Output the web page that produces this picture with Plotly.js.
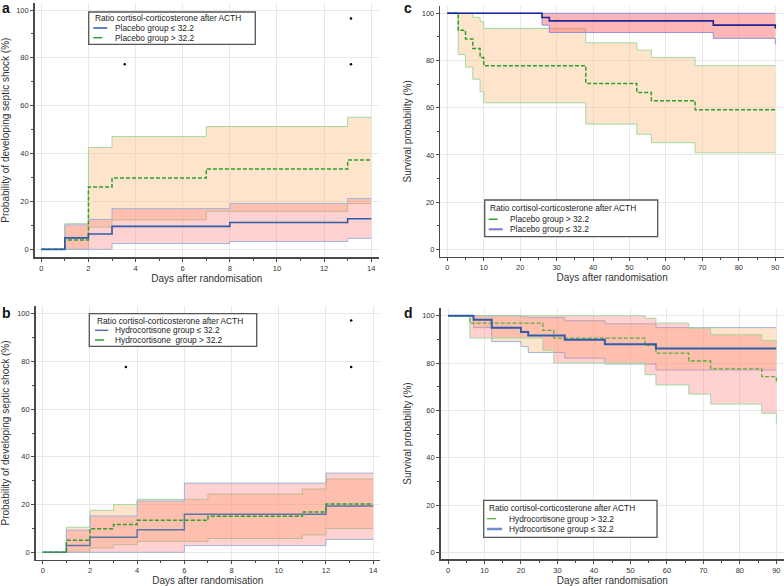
<!DOCTYPE html>
<html><head><meta charset="utf-8">
<script src="https://cdn.plot.ly/plotly-3.0.1.min.js"></script>
<style>html,body{margin:0;padding:0;background:#fff}</style>
</head><body><div id="chart" style="width:784px;height:586px"></div>
<script>
// ---------- DATA ----------
// Panel a: placebo group, probability of developing septic shock (%)
const aLowT   = [0, 1, 2, 3, 8, 13, 14];
const aLowEst = [0, 4.8, 6.4, 9.6, 11.2, 12.8, 12.8];
const aLowLo  = [0, 0, 0, 2.4, 3.3, 4.6, 4.6];
const aLowHi  = [0, 10.2, 12.5, 17.0, 19.1, 21.2, 21.2];
const aHighT   = [0, 1, 2, 3, 7, 13, 14];
const aHighEst = [0, 3.9, 26.0, 29.8, 33.6, 37.3, 37.3];
const aHighLo  = [0, 0, 9.3, 12.3, 15.9, 19.1, 19.1];
const aHighHi  = [0, 10.7, 42.5, 47.1, 51.3, 55.2, 55.2];
const aDotX = [3.54, 13.14, 13.14];
const aDotY = [77.3, 96.5, 77.3];

// Panel b: hydrocortisone group, probability of developing septic shock (%)
const bLowT   = [0, 1, 2, 4, 6, 12, 14];
const bLowEst = [0, 2.9, 6.3, 9.5, 16.0, 19.4, 19.4];
const bLowLo  = [0, 0, 0, 0, 2.8, 5.4, 5.4];
const bLowHi  = [0, 9.3, 15.2, 21.5, 29.0, 33.2, 33.2];
const bHighT   = [0, 1, 2, 3, 4, 7, 11, 12, 14];
const bHighEst = [0, 5.0, 9.9, 11.7, 13.4, 15.1, 16.9, 20.2, 20.2];
const bHighLo  = [0, 0, 1.8, 3.2, 4.6, 5.8, 7.3, 10.0, 10.0];
const bHighHi  = [0, 10.5, 17.6, 20.0, 22.2, 24.4, 26.5, 30.7, 30.7];
const bDotX = [3.52, 13.07, 13.07];
const bDotY = [77.7, 97.1, 77.7];

// Panel c: placebo group, survival probability (%)
const cLowT   = [0, 26, 28, 73, 90];
const cLowEst = [100, 98.2, 96.8, 95.0, 93.6];
const cLowLo  = [100, 95.0, 91.9, 89.4, 86.8];
const cLowHi  = [100, 100, 100, 100, 100];
const cHighT   = [0, 3, 5, 7, 9, 10, 38, 52, 56, 68, 90];
const cHighEst = [100, 92.8, 89.1, 85.1, 81.3, 77.8, 70.3, 66.5, 63.0, 59.2, 59.2];
const cHighLo  = [100, 82.6, 77.2, 72.1, 66.8, 62.1, 53.1, 48.8, 45.2, 40.9, 40.9];
const cHighHi  = [100, 100, 100, 98.3, 96.5, 93.6, 87.5, 84.4, 81.3, 77.8, 77.8];

// Panel d: hydrocortisone group, survival probability (%)
const dLowT   = [0, 7, 12, 20, 22, 32, 43, 57, 90];
const dLowEst = [100, 98.3, 95.0, 93.2, 91.7, 89.9, 88.0, 86.2, 86.2];
const dLowLo  = [100, 95.0, 89.1, 87.0, 84.5, 82.1, 79.6, 77.1, 77.1];
const dLowHi  = [100, 100, 100, 99.6, 99.2, 97.9, 96.6, 95.0, 95.0];
const dHighT   = [0, 6, 26, 29, 54, 57, 66, 72, 86, 90];
const dHighEst = [100, 96.9, 93.8, 90.6, 87.5, 84.2, 80.9, 77.6, 74.3, 71.8];
const dHighLo  = [100, 90.6, 85.5, 80.0, 75.1, 70.8, 66.9, 62.7, 58.8, 54.6];
const dHighHi  = [100, 100, 100, 100, 99.0, 96.9, 94.8, 92.0, 89.6, 88.5];
const dDotX = [18.4, 82.2];
const dDotY = [-13, -13];

// Text
const legendTitle = 'Ratio cortisol-corticosterone after ACTH';
const xTitle = 'Days after randomisation';
const yTitleShock = 'Probability of developing septic shock (%)';
const yTitleSurv = 'Survival probability (%)';

// ---------- STYLE ----------
const FONT = 'Liberation Sans, Arial, Helvetica, sans-serif';
const ORANGE = 'rgba(252,196,140,0.45)';
const PINK = 'rgba(255,120,120,0.34)';
const PINK_C = 'rgba(255,110,110,0.50)';
const GREEN_EDGE = '#a3d9a0';
const BLUE_EDGE = '#9fb3de';

function band(xa, ya, t, lo, hi, fill, edge) {
  const common = {type:'scatter', mode:'lines', x:t, xaxis:xa, yaxis:ya,
    line:{shape:'hv', color:edge, width:1}, hoverinfo:'skip', showlegend:false};
  return [Object.assign({}, common, {y:hi}),
          Object.assign({}, common, {y:lo, fill:'tonexty', fillcolor:fill})];
}
function est(xa, ya, t, v, color, dash, width) {
  return {type:'scatter', mode:'lines', x:t, y:v, xaxis:xa, yaxis:ya,
    line:{shape:'hv', color:color, width:width, dash:dash}, showlegend:false};
}
function dots(xa, ya, x, y) {
  return {type:'scatter', mode:'markers', x:x, y:y, xaxis:xa, yaxis:ya, cliponaxis:false,
    marker:{size:2.5, color:'#000'}, hoverinfo:'skip', showlegend:false};
}
const DASH = '4px,2px';

const traces = [].concat(
  // a
  band('x','y', aHighT, aHighLo, aHighHi, ORANGE, GREEN_EDGE),
  band('x','y', aLowT, aLowLo, aLowHi, PINK, BLUE_EDGE),
  [est('x','y', aHighT, aHighEst, '#2ba02b', DASH, 1.5),
   est('x','y', aLowT, aLowEst, '#2d5ca8', 'solid', 1.6),
   dots('x','y', aDotX, aDotY)],
  // c
  band('x2','y2', cHighT, cHighLo, cHighHi, ORANGE, GREEN_EDGE),
  band('x2','y2', cLowT, cLowLo, cLowHi, PINK_C, '#8f8fe0'),
  [est('x2','y2', cHighT, cHighEst, '#2ba02b', DASH, 1.5),
   est('x2','y2', cLowT, cLowEst, '#1c2596', 'solid', 1.6)],
  // b
  band('x3','y3', bHighT, bHighLo, bHighHi, ORANGE, GREEN_EDGE),
  band('x3','y3', bLowT, bLowLo, bLowHi, PINK, BLUE_EDGE),
  [est('x3','y3', bLowT, bLowEst, '#5a76a8', 'solid', 1.5),
   est('x3','y3', bHighT, bHighEst, '#2ba02b', DASH, 1.5),
   dots('x3','y3', bDotX, bDotY)],
  // d
  band('x4','y4', dLowT, dLowLo, dLowHi, ORANGE, BLUE_EDGE),
  band('x4','y4', dHighT, dHighLo, dHighHi, PINK, GREEN_EDGE),
  [est('x4','y4', dHighT, dHighEst, '#5aae3c', DASH, 1.3),
   est('x4','y4', dLowT, dLowEst, '#2f5ea8', 'solid', 2),
   dots('x4','y4', dDotX, dDotY)]
);

// ---------- LAYOUT ----------
const W = 784, H = 586;
const PX = v => v / W, PY = v => 1 - v / H;

function axis(extra) {
  return Object.assign({
    showline:true, linecolor:'#4a4a4a', linewidth:1.5, mirror:false,
    ticks:'outside', ticklen:3, tickwidth:1, tickcolor:'#4a4a4a',
    showgrid:true, gridcolor:'#e8e8e8', gridwidth:1, zeroline:false,
    tickfont:{family:FONT, size:7.5, color:'#333'}, fixedrange:true
  }, extra);
}
function minor(d) { return {ticks:'outside', ticklen:2, dtick:d, tickcolor:'#4a4a4a', showgrid:false}; }
const XT = {font:{size:10, color:'#333'}, standoff:1};

const layout = {
  width:W, height:H, autosize:false,
  margin:{l:0, r:0, t:0, b:0, pad:0},
  paper_bgcolor:'#fff', plot_bgcolor:'rgba(0,0,0,0)',
  font:{family:FONT, color:'#333'},
  showlegend:false,
  xaxis: axis({domain:[PX(34.7), PX(379)], range:[-0.28, 14.33], tick0:0, dtick:2, minor:minor(1), anchor:'y',
    title:Object.assign({text:xTitle}, XT)}),
  yaxis: axis({domain:[PY(257), PY(3.3)], range:[-3.2, 102.8], tick0:0, dtick:20, minor:minor(10), anchor:'x',
    title:{text:yTitleShock, font:{size:10, color:'#333'}, standoff:8}}),
  xaxis2: axis({domain:[PX(440.3), 1], range:[-1.92, 92.4], tick0:0, dtick:10, minor:minor(5), anchor:'y2',
    title:Object.assign({text:xTitle}, XT, {standoff:3})}),
  yaxis2: axis({domain:[PY(256.7), PY(6)], range:[-3.1, 103.1], tick0:0, dtick:20, minor:minor(10), anchor:'x2',
    title:{text:yTitleSurv, font:{size:10, color:'#333'}, standoff:8}}),
  xaxis3: axis({domain:[PX(35.7), PX(380)], range:[-0.30, 14.29], tick0:0, dtick:2, minor:minor(1), anchor:'y3',
    title:Object.assign({text:xTitle}, XT)}),
  yaxis3: axis({domain:[PY(559.7), PY(306.3)], range:[-3.1, 103.1], tick0:0, dtick:20, minor:minor(10), anchor:'x3',
    title:{text:yTitleShock, font:{size:10, color:'#333'}, standoff:8}}),
  xaxis4: axis({domain:[PX(440.7), 1], range:[-2.0, 92.1], tick0:0, dtick:10, minor:minor(5), anchor:'y4',
    title:Object.assign({text:xTitle}, XT)}),
  yaxis4: axis({domain:[PY(559), PY(308)], range:[-2.8, 103.3], tick0:0, dtick:20, minor:minor(10), anchor:'x4',
    title:{text:yTitleSurv, font:{size:10, color:'#333'}, standoff:8}}),
  shapes:[], annotations:[]
};

// panel letters
[['a',6,8],['c',408,8],['b',6,313],['d',409,313]].forEach(p => {
  layout.annotations.push({text:'<b>'+p[0]+'</b>', xref:'paper', yref:'paper', x:PX(p[1]), y:PY(p[2]),
    xanchor:'center', yanchor:'middle', showarrow:false, font:{family:FONT, size:14, color:'#111'}});
});

// manual legends
function legend(box, titleY, rows, sx0, sx1, tx) {
  layout.shapes.push({type:'rect', xref:'paper', yref:'paper', layer:'above',
    x0:PX(box[0]), x1:PX(box[2]), y0:PY(box[3]), y1:PY(box[1]),
    line:{color:'#555', width:1.3}, fillcolor:'#fff'});
  layout.annotations.push({text:legendTitle, xref:'paper', yref:'paper', x:PX(sx0-0.5), y:PY(titleY),
    xanchor:'left', yanchor:'middle', showarrow:false, font:{family:FONT, size:8.3, color:'#222'}});
  rows.forEach(r => {
    layout.shapes.push({type:'line', xref:'paper', yref:'paper', layer:'above',
      x0:PX(sx0), x1:PX(sx1), y0:PY(r.y), y1:PY(r.y), line:{color:r.color, width:r.width, dash:r.dash}});
    layout.annotations.push({text:r.text, xref:'paper', yref:'paper', x:PX(tx), y:PY(r.y),
      xanchor:'left', yanchor:'middle', showarrow:false, font:{family:FONT, size:8.3, color:'#222'}});
  });
}
legend([88.7,12,255.3,44.3], 18.3, [
  {y:28, text:'Placebo group ≤ 32.2', color:'#2d5ca8', width:1.5, dash:'solid'},
  {y:37.7, text:'Placebo group > 32.2', color:'#2ba02b', width:1.5, dash:'dash'}], 93.3, 107.3, 112.7);
legend([89.3,313.7,256.7,346.3], 321, [
  {y:330.3, text:'Hydrocortisone group ≤ 32.2', color:'#5a76a8', width:1.5, dash:'solid'},
  {y:340, text:'Hydrocortisone  group > 32.2', color:'#2ba02b', width:1.5, dash:'dash'}], 95, 108.3, 113.3);
legend([484.7,200,657.7,236.7], 208.3, [
  {y:219.3, text:'Placebo group > 32.2', color:'#2ba02b', width:1.5, dash:'dash'},
  {y:229.3, text:'Placebo group ≤ 32.2', color:'#7878cc', width:2, dash:'solid'}], 488.7, 502.7, 508);
legend([483.7,500.3,657,537.3], 508, [
  {y:518.7, text:'Hydrocortisone group > 32.2', color:'#5aae3c', width:1.3, dash:'dash'},
  {y:529, text:'Hydrocortisone group ≤ 32.2', color:'#6f8fca', width:2.5, dash:'solid'}], 487, 502, 507);

Plotly.newPlot('chart', traces, layout, {staticPlot:true, displayModeBar:false});
</script>
</body></html>
